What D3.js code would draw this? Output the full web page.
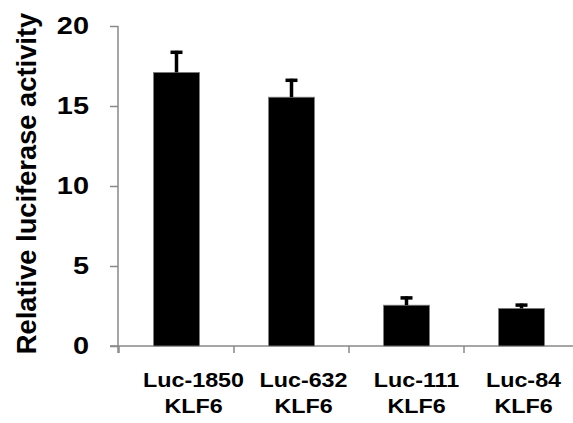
<!DOCTYPE html>
<html>
<head>
<meta charset="utf-8">
<script src="https://cdn.jsdelivr.net/npm/d3@7"></script>
<style>
  body { margin: 0; background: #fff; }
  svg text { font-family: "Liberation Sans", Arial, sans-serif; font-weight: bold; fill: #000; }
</style>
</head>
<body>
<svg width="573" height="423"></svg>
<script>
// data
var categories = ["Luc-1850", "Luc-632", "Luc-111", "Luc-84"];
var subLabels = ["KLF6", "KLF6", "KLF6", "KLF6"];
var values = [17.1, 15.55, 2.55, 2.35];
var errors = [1.35, 1.15, 0.55, 0.3];
var yTicks = [0, 5, 10, 15, 20];

// label nudges (the original labels are not centred on the bars)
var labelShift = [17, 12, 10, 2];

var svg = d3.select("svg");

var x = d3.scaleBand()
    .domain(categories)
    .range([119, 579])
    .paddingInner(0)
    .paddingOuter(0);

var y = d3.scaleLinear()
    .domain([0, 20])
    .range([346, 26]);

var barW = 46;
var axisColor = "#898989";

// y axis
var yAxis = svg.append("g")
    .attr("transform", "translate(118,0)")
    .call(d3.axisLeft(y).tickValues(yTicks).tickSize(8).tickPadding(20));
yAxis.select(".domain").attr("stroke", axisColor).attr("stroke-width", 1.5)
    .attr("d", "M0," + y(20) + "V353");
yAxis.selectAll(".tick line").attr("stroke", axisColor).attr("stroke-width", 1.5);
// the original text is a bit wider than the font, so stretch it sideways
yAxis.selectAll(".tick text")
    .attr("x", 0)
    .attr("transform", "translate(-29,0) scale(1.18,1)")
    .attr("font-size", 24.5)
    .attr("fill", "#000");

// x axis line and band ticks
svg.append("line")
    .attr("x1", 110).attr("x2", 573)
    .attr("y1", y(0)).attr("y2", y(0))
    .attr("stroke", axisColor).attr("stroke-width", 1.5);

svg.append("g").selectAll("line")
    .data(categories)
    .enter().append("line")
    .attr("x1", function(d) { return x(d); })
    .attr("x2", function(d) { return x(d); })
    .attr("y1", y(0)).attr("y2", y(0) + 7)
    .attr("stroke", axisColor).attr("stroke-width", 1.5);

// bars
svg.append("g").selectAll("rect")
    .data(categories)
    .enter().append("rect")
    .attr("x", function(d) { return x(d) + x.bandwidth() / 2 - barW / 2; })
    .attr("y", function(d, i) { return y(values[i]); })
    .attr("width", barW)
    .attr("height", function(d, i) { return y(0) - y(values[i]); })
    .attr("fill", "#000")
    .attr("stroke", "#7f7f7f")
    .attr("stroke-width", 0.8);

// error bars
var err = svg.append("g").selectAll("g")
    .data(categories)
    .enter().append("g");

err.append("line")
    .attr("x1", function(d) { return x(d) + x.bandwidth() / 2; })
    .attr("x2", function(d) { return x(d) + x.bandwidth() / 2; })
    .attr("y1", function(d, i) { return y(values[i]); })
    .attr("y2", function(d, i) { return y(values[i] + errors[i]); })
    .attr("stroke", "#000").attr("stroke-width", 3.5);

err.append("line")
    .attr("x1", function(d) { return x(d) + x.bandwidth() / 2 - 6; })
    .attr("x2", function(d) { return x(d) + x.bandwidth() / 2 + 6; })
    .attr("y1", function(d, i) { return y(values[i] + errors[i]) + 1.5; })
    .attr("y2", function(d, i) { return y(values[i] + errors[i]) + 1.5; })
    .attr("stroke", "#000").attr("stroke-width", 3.5);

// category labels, two lines
var lab = svg.append("g").selectAll("text")
    .data(categories)
    .enter().append("text")
    .attr("text-anchor", "middle")
    .attr("font-size", 21)
    .attr("transform", function(d, i) {
      return "translate(" + (x(d) + x.bandwidth() / 2 + labelShift[i]) + ",387) scale(1.11,1)";
    });
lab.append("tspan").attr("x", 0).attr("y", 0).text(function(d) { return d; });
lab.append("tspan").attr("x", 0).attr("y", 26).text(function(d, i) { return subLabels[i]; });

// y title
svg.append("text")
    .attr("transform", "translate(36,183.5) rotate(-90)")
    .attr("text-anchor", "middle")
    .attr("font-size", 27.3)
    .text("Relative luciferase activity");
</script>
</body>
</html>
